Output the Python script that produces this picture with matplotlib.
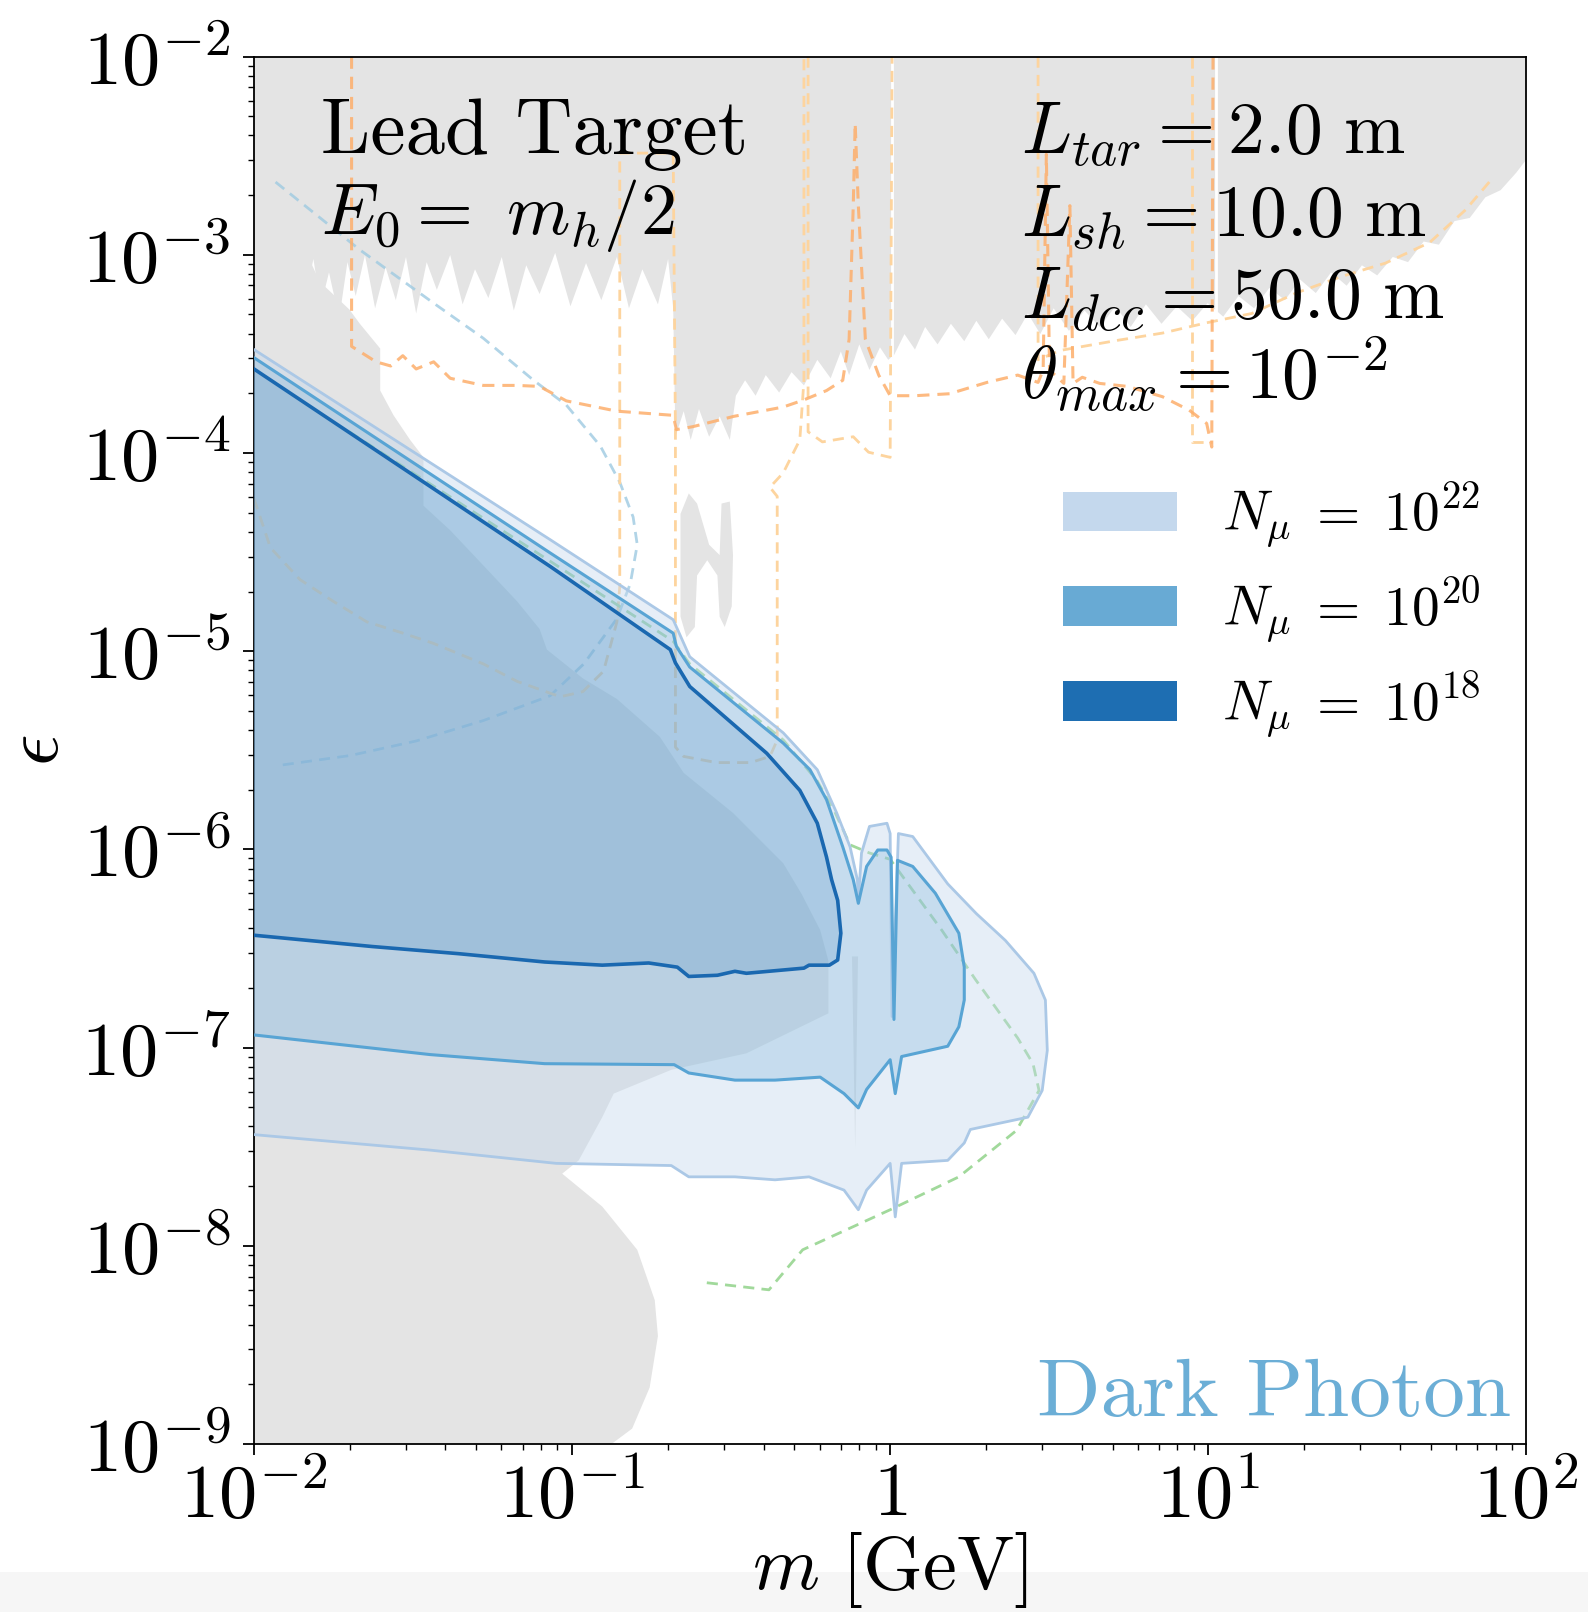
import numpy as np
import matplotlib
matplotlib.use("Agg")
import matplotlib.pyplot as plt
from matplotlib.patches import Patch, Rectangle
from matplotlib.ticker import LogLocator, NullFormatter

plt.rcParams['mathtext.fontset'] = 'cm'
plt.rcParams['font.family'] = ['cmr10', 'DejaVu Serif']
plt.rcParams['axes.unicode_minus'] = False

# ---------------- data (log10 m [GeV], log10 epsilon) ----------------
# existing limits from above (noisy gray band)
gray_top_logm = [
    -2.000, -1.984, -1.971, -1.952, -1.932, -1.910, -1.887, -1.861, -1.835, -1.813,
    -1.790, -1.764, -1.732, -1.706, -1.680, -1.651, -1.619, -1.586, -1.554, -1.522,
    -1.490, -1.457, -1.425, -1.383, -1.344, -1.305, -1.263, -1.221, -1.183, -1.144,
    -1.102, -1.053, -1.005, -0.956, -0.908, -0.859, -0.821, -0.779, -0.730, -0.698,
    -0.682,
    -0.675, -0.649, -0.627, -0.601, -0.569, -0.536, -0.504, -0.485, -0.456, -0.423,
    -0.391, -0.349, -0.310, -0.271, -0.229, -0.187, -0.155, -0.129, -0.097, -0.065,
    -0.032, -0.006,
    0.013, 0.045, 0.078, 0.110, 0.149, 0.191, 0.233, 0.271, 0.310, 0.352,
    0.394, 0.433, 0.472, 0.514, 0.562, 0.611, 0.659, 0.708, 0.756, 0.804,
    0.853, 0.901, 0.950, 0.998, 1.047, 1.095, 1.144, 1.192, 1.241, 1.289,
    1.338, 1.386, 1.435, 1.483, 1.531, 1.580, 1.628, 1.677, 1.725, 1.774,
    1.822, 1.871, 1.919, 1.968, 2.000]
gray_top_logeps = [
    -3.115, -3.037, -3.270, -3.073, -3.218, -3.011, -3.296, -3.053, -3.193, -3.021,
    -3.260, -3.089, -3.322, -3.037, -3.208, -3.001, -3.270, -3.063, -3.229, -3.011,
    -3.296, -3.037, -3.177, -3.001, -3.250, -3.073, -3.218, -3.011, -3.281, -3.053,
    -3.198, -2.990, -3.260, -3.042, -3.229, -3.011, -3.270, -3.073, -3.250, -3.021,
    -3.270,
    -3.918, -3.789, -3.934, -3.778, -3.918, -3.815, -3.934, -3.711, -3.633, -3.711,
    -3.607, -3.695, -3.592, -3.659, -3.530, -3.623, -3.488, -3.607, -3.452, -3.581,
    -3.467, -3.530,
    -3.504, -3.400, -3.478, -3.364, -3.452, -3.348, -3.436, -3.333, -3.426, -3.322,
    -3.405, -3.296, -3.400, -3.270, -3.384, -3.281, -3.364, -3.260, -3.364, -3.250,
    -3.348, -3.260, -3.333, -3.244, -3.312, -3.208, -3.270, -3.167, -3.229, -3.125,
    -3.193, -3.089, -3.156, -3.053, -3.104, -3.011, -3.037, -2.933, -2.949, -2.830,
    -2.814, -2.710, -2.674, -2.586, -2.519]

# beam dump limits (gray, lower left)
gray_low_logm = [-2.000, -1.829, -1.793, -1.700, -1.667, -1.603, -1.603, -1.561, -1.509, -1.467,
                 -1.467, -1.383, -1.279, -1.173, -1.102, -1.079, -0.966, -0.859, -0.724, -0.649,
                 -0.494, -0.336, -0.278, -0.220, -0.194, -0.194, -0.452, -0.688, -0.869, -0.905,
                 -0.979, -1.031, -0.905, -0.795, -0.740, -0.730, -0.756, -0.811, -0.876, -2.000]
gray_low_logeps = [-3.000, -3.011, -3.136, -3.276, -3.348, -3.473, -3.685, -3.810, -3.934, -4.022,
                   -4.266, -4.390, -4.567, -4.748, -4.888, -4.992, -5.137, -5.241, -5.432, -5.614,
                   -5.816, -6.070, -6.226, -6.407, -6.563, -6.827, -7.029, -7.112, -7.232, -7.351,
                   -7.569, -7.636, -7.802, -8.020, -8.274, -8.455, -8.715, -8.922, -9.000, -9.000]
gray_rho_logm = [-0.120, -0.110, -0.101]
gray_rho_logeps = [-6.54, -7.51, -6.54]
gray_blob_logm = [-0.659, -0.633, -0.607, -0.569, -0.536, -0.530, -0.504, -0.494, -0.498,
                  -0.520, -0.536, -0.543, -0.575, -0.607, -0.614, -0.640, -0.659]
gray_blob_logeps = [-4.307, -4.204, -4.255, -4.463, -4.515, -4.255, -4.245, -4.515, -4.774,
                    -4.878, -4.826, -4.618, -4.541, -4.618, -4.878, -4.930, -4.826]

# resonance vetoes (white gaps)
veto_logm = [0.006, 1.024]
veto_logeps_low = [-4.02, -3.97]

# sensitivity contours
n22_logm = [-2.000, -1.069, -0.682, -0.630, -0.336, -0.229, -0.168, -0.126, -0.103, -0.100,
            -0.090, -0.065, -0.010, 0.000, 0.006, 0.026, 0.071, 0.181, 0.271, 0.362,
            0.452, 0.488, 0.494, 0.478, 0.433, 0.252, 0.233, 0.181, 0.036, 0.016,
            0.000, -0.074, -0.100, -0.145, -0.255, -0.362, -0.488, -0.633, -0.688, -1.050,
            -1.447, -2.000]
n22_logeps = [-3.478, -4.437, -4.841, -5.028, -5.412, -5.598, -5.816, -5.987, -6.153, -6.257,
              -6.018, -5.884, -5.868, -5.920, -6.843, -5.920, -5.935, -6.174, -6.324, -6.459,
              -6.625, -6.760, -7.014, -7.216, -7.351, -7.413, -7.481, -7.569, -7.584, -7.854,
              -7.584, -7.719, -7.818, -7.719, -7.652, -7.667, -7.652, -7.652, -7.595, -7.584,
              -7.517, -7.439]
n20_logm = [-2.000, -1.069, -0.682, -0.672, -0.630, -0.336, -0.252, -0.200, -0.149, -0.116,
            -0.100, -0.074, -0.039, -0.010, 0.003, 0.012, 0.023, 0.071, 0.142, 0.216,
            0.233, 0.233, 0.216, 0.181, 0.036, 0.016, 0.000, -0.074, -0.100, -0.145,
            -0.220, -0.362, -0.488, -0.633, -0.679, -1.086, -1.447, -2.000]
n20_logeps = [-3.519, -4.504, -4.909, -4.976, -5.080, -5.464, -5.598, -5.749, -5.987, -6.153,
              -6.272, -6.086, -6.003, -6.003, -6.039, -6.858, -6.055, -6.086, -6.221, -6.423,
              -6.594, -6.760, -6.895, -6.993, -7.045, -7.232, -7.061, -7.211, -7.304, -7.232,
              -7.149, -7.164, -7.164, -7.128, -7.086, -7.081, -7.035, -6.936]
n18_logm = [-2.000, -1.069, -0.691, -0.675, -0.630, -0.388, -0.284, -0.229, -0.200, -0.184,
            -0.165, -0.155, -0.165, -0.191, -0.255, -0.271, -0.452, -0.488, -0.543, -0.633,
            -0.669, -0.759, -0.905, -1.086, -1.357, -1.628, -2.000]
n18_logeps = [-3.576, -4.572, -4.992, -5.059, -5.178, -5.515, -5.702, -5.868, -6.039, -6.153,
              -6.257, -6.423, -6.558, -6.584, -6.584, -6.599, -6.625, -6.615, -6.635, -6.641,
              -6.594, -6.573, -6.584, -6.568, -6.526, -6.490, -6.433]

# other projections / limits (dashed)
orange_logm = [-1.693, -1.693, -1.616, -1.570, -1.532, -1.490, -1.435, -1.383, -1.279, -1.173,
               -1.102, -1.018, -0.859, -0.682, -0.672, -0.620, -0.491, -0.336, -0.271, -0.200,
               -0.149, -0.129, -0.116, -0.110, -0.100, -0.078, -0.036, 0.000, 0.078, 0.187,
               0.304, 0.401, 0.465, 0.481, 0.491, 0.501, 0.546, 0.565, 0.575, 0.604,
               0.659, 0.746, 0.856, 0.940, 0.995, 1.011, 1.015]
orange_logeps = [-2.000, -3.462, -3.540, -3.561, -3.509, -3.576, -3.540, -3.623, -3.659, -3.659,
                 -3.664, -3.737, -3.789, -3.810, -3.882, -3.867, -3.815, -3.768, -3.732, -3.685,
                 -3.633, -3.426, -2.752, -2.337, -2.752, -3.426, -3.607, -3.711, -3.711, -3.701,
                 -3.644, -3.607, -3.644, -3.581, -2.493, -3.581, -3.649, -2.752, -3.649, -3.618,
                 -3.649, -3.664, -3.716, -3.784, -3.851, -3.970, -2.000]
yellow_a_logm = [-2.000, -1.948, -1.855, -1.751, -1.645, -1.541, -1.435, -1.279, -1.173, -1.037,
                 -0.966, -0.901, -0.859, -0.850, -0.850, -0.682, -0.675, -0.675, -0.649, -0.546,
                 -0.439, -0.378, -0.355, -0.355, -0.378, -0.336, -0.284, -0.271, -0.271]
yellow_a_logeps = [-4.230, -4.478, -4.639, -4.748, -4.852, -4.904, -4.961, -5.064, -5.152, -5.230,
                   -5.204, -5.101, -4.852, -4.675, -2.487, -2.487, -3.893, -5.484, -5.531, -5.562,
                   -5.562, -5.531, -5.448, -4.219, -4.173, -4.100, -3.934, -3.633, -2.000]
yellow_b_logm = [0.465, 0.465, 0.533, 0.717, 0.856, 0.995, 1.137, 1.276, 1.418, 1.557,
                 1.696, 1.809, 1.897]
yellow_b_logeps = [-2.000, -3.530, -3.483, -3.431, -3.395, -3.343, -3.296, -3.193, -3.110, -3.042,
                   -2.938, -2.773, -2.607]
yellow_c_logm = [-0.258, -0.258, -0.213, -0.116, -0.068, 0.000, 0.006]
yellow_c_logeps = [-2.000, -3.893, -3.944, -3.918, -3.996, -4.022, -2.000]
yellow_d_logm = [0.950, 0.950, 1.011]
yellow_d_logeps = [-2.000, -3.944, -3.944]
green_logm = [-1.700, -1.069, -0.682, -0.630, -0.336, -0.229, -0.174, -0.126, -0.065, 0.000,
              0.162, 0.268, 0.401, 0.449, 0.468, 0.397, 0.216, 0.000, -0.275, -0.381, -0.578]
green_logeps = [-3.893, -4.546, -4.950, -5.064, -5.448, -5.655, -5.811, -5.977, -6.018, -6.050,
                -6.407, -6.656, -6.952, -7.081, -7.216, -7.418, -7.652, -7.818, -8.020, -8.222,
                -8.186]
blue_logm = [-1.932, -1.667, -1.435, -1.279, -1.121, -1.018, -0.911, -0.850, -0.808, -0.795,
             -0.817, -0.859, -0.963, -1.069, -1.279, -1.490, -1.696, -1.929]
blue_logeps = [-2.633, -2.975, -3.244, -3.421, -3.633, -3.758, -3.965, -4.147, -4.323, -4.463,
               -4.660, -4.836, -5.064, -5.225, -5.350, -5.453, -5.526, -5.578]

legend_labels = [r'$N_{\mu}\;=\;10^{22}$', r'$N_{\mu}\;=\;10^{20}$', r'$N_{\mu}\;=\;10^{18}$']
legend_colors = ['#c4d8ed', '#68aad4', '#1e6eb2']
fill_alphas = [0.42, 0.25, 0.16]
edge_colors = ['#abc8e6', '#58a4d4', '#1a68b0']
x_ticks = [1e-2, 1e-1, 1, 1e1, 1e2]
x_ticklabels = [r'$10^{-2}$', r'$10^{-1}$', r'$1$', r'$10^{1}$', r'$10^{2}$']
y_ticks = [1e-9, 1e-8, 1e-7, 1e-6, 1e-5, 1e-4, 1e-3, 1e-2]
y_ticklabels = [r'$10^{-%d}$' % k for k in range(9, 1, -1)]

GRAY = '#e4e4e4'


def lin(a):
    return 10 ** np.asarray(a, dtype=float)


fig = plt.figure(figsize=(15.88, 16.12), dpi=100)
fig.patches.append(Rectangle((0, 0), 1, 0.025, transform=fig.transFigure,
                             facecolor='#f6f6f6', edgecolor='none', zorder=-5))
ax = fig.add_axes([0.1599, 0.1042, 0.8013, 0.8607])
ax.set_xscale('log')
ax.set_yscale('log')
ax.set_xlim(1e-2, 1e2)
ax.set_ylim(1e-9, 1e-2)

# gray existing limits
top_m = np.concatenate([lin(gray_top_logm), [1e2, 1e-2]])
top_e = np.concatenate([lin(gray_top_logeps), [1e-2, 1e-2]])
ax.fill(top_m, top_e, color=GRAY, lw=0, zorder=1)
ax.fill(lin(gray_low_logm), lin(gray_low_logeps), color=GRAY, lw=0, zorder=1)
ax.fill(lin(gray_rho_logm), lin(gray_rho_logeps), color=GRAY, lw=0, zorder=1)
ax.fill(lin(gray_blob_logm), lin(gray_blob_logeps), color=GRAY, lw=0, zorder=1)
for lm, le in zip(veto_logm, veto_logeps_low):
    ax.plot([10 ** lm] * 2, [10 ** le, 1e-2], color='white', lw=2.0, zorder=1.5)

# dashed lines
dash = (0, (4, 2.6))
ax.plot(lin(blue_logm), lin(blue_logeps), color='#9ecae1', lw=2, ls=dash, alpha=0.8, zorder=2)
ax.plot(lin(yellow_a_logm), lin(yellow_a_logeps), color='#fdd49e', lw=2, ls=dash, zorder=2)
ax.plot(lin(yellow_b_logm), lin(yellow_b_logeps), color='#fdd49e', lw=2, ls=dash, zorder=2)
ax.plot(lin(yellow_c_logm), lin(yellow_c_logeps), color='#fdd49e', lw=2, ls=dash, zorder=2)
ax.plot(lin(yellow_d_logm), lin(yellow_d_logeps), color='#fdd49e', lw=2, ls=dash, zorder=2)
ax.plot(lin(orange_logm), lin(orange_logeps), color='#fdae6b', lw=2.2, ls=dash, alpha=0.85, zorder=2)
ax.plot(lin(green_logm), lin(green_logeps), color='#a1d99b', lw=2, ls=dash, zorder=2)

# sensitivity regions
regions = [(n22_logm, n22_logeps), (n20_logm, n20_logeps), (n18_logm, n18_logeps)]
for (lm, le), fc, a in zip(regions, legend_colors, fill_alphas):
    ax.fill(lin(lm), lin(le), facecolor=fc, alpha=a, edgecolor='none', zorder=3)
for (lm, le), ec, lw in zip(regions, edge_colors, [2.0, 2.2, 2.6]):
    ax.plot(lin(lm), lin(le), color=ec, lw=lw, zorder=4)

# axes cosmetics
ax.set_xticks(x_ticks)
ax.set_xticklabels(x_ticklabels)
ax.set_yticks(y_ticks)
ax.set_yticklabels(y_ticklabels)
ax.xaxis.set_minor_locator(LogLocator(base=10, subs=np.arange(2, 10), numticks=100))
ax.yaxis.set_minor_locator(LogLocator(base=10, subs=np.arange(2, 10), numticks=100))
ax.xaxis.set_minor_formatter(NullFormatter())
ax.yaxis.set_minor_formatter(NullFormatter())
ax.tick_params(which='major', direction='out', length=8, width=1.3, labelsize=55)
ax.tick_params(axis='x', which='major', pad=5)
ax.tick_params(axis='y', which='major', pad=9)
ax.tick_params(which='minor', direction='out', length=4, width=1.0)
for sp in ax.spines.values():
    sp.set_linewidth(1.3)
ax.set_xlabel(r'$m\ \mathrm{[GeV]}$', fontsize=55, labelpad=-2)
ax.set_ylabel(r'$\epsilon$', fontsize=56, labelpad=6)

# annotations
ax.text(0.0525, 0.930, 'Lead Target', transform=ax.transAxes, fontsize=57,
        va='baseline', ha='left', zorder=6)
ax.text(0.0525, 0.872, r'$E_0 =\ m_h/2$', transform=ax.transAxes, fontsize=52,
        va='baseline', ha='left', zorder=6)
ax.text(0.603, 0.930, r'$L_{tar} = 2.0\ \mathrm{m}$', transform=ax.transAxes, fontsize=53,
        va='baseline', ha='left', zorder=6)
ax.text(0.603, 0.870, r'$L_{sh} = 10.0\ \mathrm{m}$', transform=ax.transAxes, fontsize=53,
        va='baseline', ha='left', zorder=6)
ax.text(0.603, 0.811, r'$L_{dcc} = 50.0\ \mathrm{m}$', transform=ax.transAxes, fontsize=53,
        va='baseline', ha='left', zorder=6)
ax.text(0.603, 0.753, r'$\theta_{max} = 10^{-2}$', transform=ax.transAxes, fontsize=53,
        va='baseline', ha='left', zorder=6)
ax.text(0.988, 0.020, 'Dark Photon', transform=ax.transAxes, fontsize=60,
        color='#6baed6', va='baseline', ha='right', zorder=6)

handles = [Patch(facecolor=c, edgecolor='none') for c in legend_colors]
ax.legend(handles, legend_labels, loc='upper left', bbox_to_anchor=(0.636, 0.694),
          frameon=False, fontsize=40, handlelength=2.05, handleheight=0.72,
          labelspacing=0.42, handletextpad=0.8, borderaxespad=0, borderpad=0)

fig.savefig('out.png', dpi=100)
